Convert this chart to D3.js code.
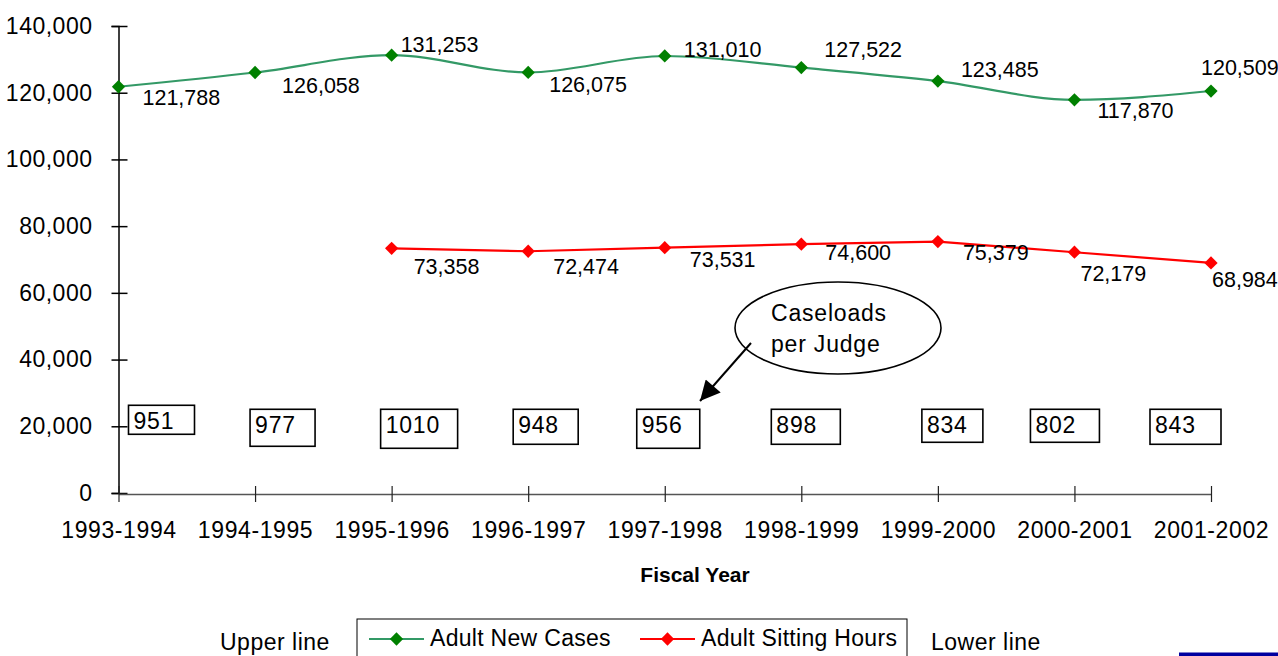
<!DOCTYPE html>
<html>
<head>
<meta charset="utf-8">
<script src="https://cdn.jsdelivr.net/npm/d3@7"></script>
<style>
  body { margin: 0; background: #fff; }
  svg { display: block; font-family: Arial, "Liberation Sans", sans-serif; }
</style>
</head>
<body>
<div id="chart"></div>
<script>
////////////////////////////////////////////////////////////////////////
// Data

let years = ["1993-1994", "1994-1995", "1995-1996", "1996-1997", "1997-1998",
             "1998-1999", "1999-2000", "2000-2001", "2001-2002"];

let newCases = [121788, 126058, 131253, 126075, 131010, 127522, 123485, 117870, 120509];

// sitting hours start in 1995-1996
let sittingHours = [null, null, 73358, 72474, 73531, 74600, 75379, 72179, 68984];

let caseloads = [951, 977, 1010, 948, 956, 898, 834, 802, 843];

let yTicks = [0, 20000, 40000, 60000, 80000, 100000, 120000, 140000];

// label placement (dx, dy from the point)
let newCasesLabelPos = [[24, 18], [27, 20], [9, -3], [21, 20], [19, 1], [23, -11], [23, -4], [23, 18], [-10, -16]];
let sittingLabelPos = [null, null, [22, 26], [25, 23], [25, 19], [24, 16], [25, 18], [6, 29], [1, 24]];

// caseload text boxes: [dx from category, width, top, height]
let boxPos = [[10, 66, -21, 29], [-5, 65, -17, 37], [-11, 77, -17, 39], [-15, 65, -17, 35],
              [-28, 63, -17, 39], [-30, 69, -17, 35], [-16, 61, -17, 33], [-44, 69, -17, 33], [-61, 71, -17, 35]];

////////////////////////////////////////////////////////////////////////
// Layout

let width = 1278, height = 656;
let greenLine = "#339966", greenMark = "#008000", red = "#ff0000";

let svg = d3.select("#chart").append("svg")
  .attr("width", width)
  .attr("height", height);

let xScale = d3.scalePoint().domain(years).range([118.5, 1211]);
let yScale = d3.scaleLinear().domain([0, 140000]).range([493, 26]);

// y axis
let yAxis = d3.axisLeft(yScale).tickValues(yTicks).tickFormat(d3.format(",")).tickSize(7).tickPadding(19);
let gy = svg.append("g").attr("transform", "translate(118.5,0)").call(yAxis);
gy.select(".domain").attr("stroke", "#000").attr("stroke-width", 1.5);
gy.selectAll(".tick line").attr("x1", -7).attr("x2", 9).attr("stroke", "#000").attr("stroke-width", 1.5);
gy.selectAll(".tick text")
  .attr("font-size", 23).attr("letter-spacing", "0.5px").attr("fill", "#000")
  .attr("font-family", "Arial, 'Liberation Sans', sans-serif");

// x axis
let xAxis = d3.axisBottom(xScale).tickSize(8).tickSizeOuter(0);
let gx = svg.append("g").attr("transform", "translate(0,494)").call(xAxis);
gx.select(".domain").attr("stroke", "#555").attr("stroke-width", 1.5);
gx.selectAll(".tick line").attr("y1", -8).attr("y2", 8).attr("stroke", "#222").attr("stroke-width", 1.2);
gx.selectAll(".tick text")
  .attr("y", 44).attr("dy", 0)
  .attr("font-size", 23).attr("letter-spacing", "0.6px").attr("fill", "#000")
  .attr("font-family", "Arial, 'Liberation Sans', sans-serif");

svg.append("text")
  .attr("x", 695).attr("y", 582)
  .attr("text-anchor", "middle")
  .attr("font-size", 21).attr("font-weight", "bold")
  .text("Fiscal Year");

////////////////////////////////////////////////////////////////////////
// Lines

let diamond = d3.symbol().type(d3.symbolSquare).size(88);

let smooth = d3.line()
  .x((d, i) => xScale(years[i]))
  .y(d => yScale(d))
  .curve(d3.curveMonotoneX);

svg.append("path")
  .datum(newCases)
  .attr("fill", "none")
  .attr("stroke", greenLine)
  .attr("stroke-width", 2.2)
  .attr("d", smooth);

svg.append("g").selectAll("path")
  .data(newCases)
  .enter().append("path")
  .attr("d", diamond)
  .attr("fill", greenMark)
  .attr("transform", (d, i) => "translate(" + xScale(years[i]) + "," + yScale(d) + ") rotate(45)");

svg.append("g").selectAll("text")
  .data(newCases)
  .enter().append("text")
  .attr("x", (d, i) => xScale(years[i]) + newCasesLabelPos[i][0])
  .attr("y", (d, i) => yScale(d) + newCasesLabelPos[i][1])
  .attr("font-size", 21.5)
  .text(d => d3.format(",")(d));

let straight = d3.line()
  .defined(d => d != null)
  .x((d, i) => xScale(years[i]))
  .y(d => yScale(d));

svg.append("path")
  .datum(sittingHours)
  .attr("fill", "none")
  .attr("stroke", red)
  .attr("stroke-width", 2.2)
  .attr("d", straight);

let sittingIdx = d3.range(years.length).filter(i => sittingHours[i] != null);

svg.append("g").selectAll("path")
  .data(sittingIdx)
  .enter().append("path")
  .attr("d", diamond)
  .attr("fill", red)
  .attr("transform", i => "translate(" + xScale(years[i]) + "," + yScale(sittingHours[i]) + ") rotate(45)");

svg.append("g").selectAll("text")
  .data(sittingIdx)
  .enter().append("text")
  .attr("x", i => xScale(years[i]) + sittingLabelPos[i][0])
  .attr("y", i => yScale(sittingHours[i]) + sittingLabelPos[i][1])
  .attr("font-size", 21.5)
  .text(i => d3.format(",")(sittingHours[i]));

////////////////////////////////////////////////////////////////////////
// Caseloads per judge boxes

let boxes = svg.append("g").selectAll("g")
  .data(caseloads)
  .enter().append("g")
  .attr("transform", (d, i) => "translate(" + (xScale(years[i]) + boxPos[i][0]) + "," + yScale(20000) + ")");

boxes.append("rect")
  .attr("y", (d, i) => boxPos[i][2])
  .attr("width", (d, i) => boxPos[i][1])
  .attr("height", (d, i) => boxPos[i][3])
  .attr("fill", "#fff")
  .attr("stroke", "#000")
  .attr("stroke-width", 1.6);

boxes.append("text")
  .attr("x", 5)
  .attr("y", (d, i) => i == 0 ? 3 : 7)
  .attr("font-size", 23)
  .attr("letter-spacing", "0.8px")
  .text(d => d);

// callout
svg.append("ellipse")
  .attr("cx", 838).attr("cy", 328).attr("rx", 103).attr("ry", 46)
  .attr("fill", "#fff").attr("stroke", "#000").attr("stroke-width", 1.6);

svg.append("text")
  .attr("font-size", 23).attr("letter-spacing", "0.8px")
  .selectAll("tspan")
  .data(["Caseloads", "per Judge"])
  .enter().append("tspan")
  .attr("x", 771)
  .attr("y", (d, i) => 321 + i * 31)
  .text(d => d);

svg.append("defs").append("marker")
  .attr("id", "arrow")
  .attr("viewBox", "0 0 10 10")
  .attr("refX", 10).attr("refY", 5)
  .attr("markerWidth", 13).attr("markerHeight", 10)
  .attr("markerUnits", "strokeWidth")
  .attr("orient", "auto")
  .append("path")
  .attr("d", "M0,0 L10,5 L0,10 Z")
  .attr("fill", "#000");

svg.append("line")
  .attr("x1", 751).attr("y1", 343)
  .attr("x2", 700).attr("y2", 401)
  .attr("stroke", "#000").attr("stroke-width", 2)
  .attr("marker-end", "url(#arrow)");

////////////////////////////////////////////////////////////////////////
// Legend

let legendFont = 23;

svg.append("rect")
  .attr("x", 357).attr("y", 619).attr("width", 550).attr("height", 50)
  .attr("fill", "#fff").attr("stroke", "#000").attr("stroke-width", 1);

let legendItems = [
  {name: "Adult New Cases", line: greenLine, mark: greenMark, x: 369},
  {name: "Adult Sitting Hours", line: red, mark: red, x: 640}
];

let li = svg.append("g").selectAll("g")
  .data(legendItems)
  .enter().append("g")
  .attr("transform", d => "translate(" + d.x + ",639)");

li.append("line")
  .attr("x1", 0).attr("x2", 55)
  .attr("stroke", d => d.line).attr("stroke-width", 2);

li.append("path")
  .attr("d", diamond)
  .attr("fill", d => d.mark)
  .attr("transform", "translate(27.5,0) rotate(45)");

li.append("text")
  .attr("x", 61).attr("y", 7)
  .attr("font-size", legendFont).attr("letter-spacing", "0.3px")
  .text(d => d.name);

svg.append("text")
  .attr("x", 220).attr("y", 650)
  .attr("font-size", legendFont).attr("letter-spacing", "0.5px")
  .text("Upper line");

svg.append("text")
  .attr("x", 931).attr("y", 650)
  .attr("font-size", legendFont).attr("letter-spacing", "0.5px")
  .text("Lower line");

svg.append("rect")
  .attr("x", 1179).attr("y", 652.5).attr("width", 99).attr("height", 4)
  .attr("fill", "#0000a0");
</script>
</body>
</html>
